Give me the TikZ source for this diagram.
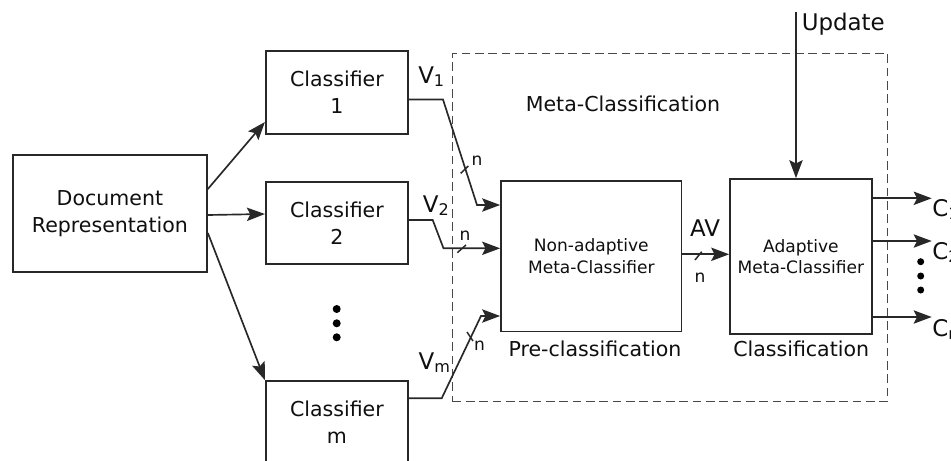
\documentclass[tikz,border=0pt]{standalone}
\usepackage{fontspec}
\setmainfont{DejaVu Sans}
\usetikzlibrary{arrows.meta,calc}
\definecolor{ln}{RGB}{40,40,40}
\definecolor{tx}{RGB}{15,15,15}
\begin{document}
\begin{tikzpicture}[x=0.75pt,y=-0.75pt,
  box/.style={draw=ln,line width=1.25pt,inner sep=0pt,align=center,text=tx,font=\fontsize{15.4pt}{20.25pt}\selectfont},
  ibox/.style={box,font=\fontsize{12.8pt}{16.2pt}\selectfont},
  arr/.style={draw=ln,line width=1.25pt,-{Stealth[length=13.5pt,width=10pt,inset=2.5pt]}},
  tick/.style={draw=ln,line width=1.1pt},
  lblmain/.style={text=tx,inner sep=0pt,font=\fontsize{15.4pt}{18pt}\selectfont},
  lblbig/.style={text=tx,inner sep=0pt,font=\fontsize{17.2pt}{20pt}\selectfont},
  lblsmall/.style={text=tx,inner sep=0pt,font=\fontsize{12.8pt}{14pt}\selectfont},
  bigdot/.style={circle,fill=black,inner sep=0pt,minimum size=#1},
  dashbox/.style={draw=ln!85,line width=0.95pt,dash pattern=on 6.5pt off 3.5pt,inner sep=0pt}
]
\clip (0,0) rectangle (951,461);
\useasboundingbox (0,0) rectangle (951,461);

% dashed meta region
\node[dashbox,minimum width=326pt,minimum height=261.3pt] (meta) at (670,227.5) {};
\node[lblmain,anchor=base] (metalbl) at (623,111) {Meta-Classification};

% boxes
\node[box,minimum width=145.7pt,minimum height=87.75pt] (doc) at (109.9,213.5) {Document\\Representation};
\node[box,minimum width=106.7pt,minimum height=62.25pt] (c1) at (336.9,92.5) {Classifier\\1};
\node[box,minimum width=106.7pt,minimum height=61.5pt] (c2) at (336.9,223) {Classifier\\2};
\node[box,minimum width=106.7pt,minimum height=62.25pt] (c3) at (336.9,422.5) {Classifier\\m};
\node[ibox,minimum width=135.5pt,minimum height=113pt] (nad) at (591.3,256.3) {Non-adaptive\\Meta-Classifier};
\node[ibox,minimum width=106.3pt,minimum height=116.25pt] (ada) at (800.9,256.5) {Adaptive\\Meta-Classifier};
\node[lblmain,anchor=base] (prelbl) at (595,356.7) {Pre-classification};
\node[lblmain,anchor=base] (clslbl) at (801.2,356.7) {Classification};

% vertical dots
\node[bigdot=6pt] (md1) at (336.7,309) {};
\node[bigdot=6pt] (md2) at (336.7,323.3) {};
\node[bigdot=6pt] (md3) at (336.7,337.3) {};

% doc -> classifiers
\coordinate (d1s) at (207,189);
\coordinate (d1e) at (265.7,122);
\coordinate (d2s) at (207,215);
\coordinate (d2e) at (265.7,214);
\coordinate (d3s) at (207,233);
\draw[arr] (doc.east |- d1s) -- (c1.west |- d1e);
\draw[arr] (doc.east |- d2s) -- (c2.west |- d2e);
\draw[arr] (doc.east |- d3s) -- (c3.north west);

% V connectors
\coordinate (v1a) at (443,99.5);
\coordinate (v1b) at (477,205);
\coordinate (v2a) at (432.7,220);
\coordinate (v2b) at (443.5,248.3);
\coordinate (vma) at (441.7,398.3);
\coordinate (vmb) at (481,316);
\draw[arr] (c1.east |- v1a) -- (v1a) -- (v1b) -- (nad.west |- v1b);
\draw[arr] (c2.east |- v2a) -- (v2a) -- (v2b) -- (nad.west |- v2b);
\draw[arr] (c3.east |- vma) -- (vma) -- (vmb) -- (nad.west |- vmb);
\node[lblbig,anchor=base west] (v1lbl) at (418,83) {V\textsubscript{1}};
\node[lblbig,anchor=base west] (v2lbl) at (422.7,212) {V\textsubscript{2}};
\node[lblbig,anchor=base west] (vmlbl) at (418.3,369) {V\textsubscript{m}};

% bus ticks and widths
\draw[tick] (460.7,173.3) -- (468.3,166);
\draw[tick] (457.3,252.7) -- (466,245);
\draw[tick] (467,332) -- (473,341);
\node[lblsmall] (n1) at (477,161) {n};
\node[lblsmall] (n2) at (465,236) {n};
\node[lblsmall] (nm) at (479.5,346) {n};

% AV
\coordinate (av) at (700,254.3);
\draw[arr] (nad.east |- av) -- (ada.west |- av);
\draw[tick] (695,260) -- (701.7,251.7);
\node[lblbig,anchor=base] (avlbl) at (705,236.7) {AV};
\node[lblsmall] (nav) at (700,278) {n};

% Update
\coordinate (upd) at (796,11.7);
\draw[arr] (upd) -- (ada.north -| upd);
\node[lblbig,anchor=base west] (updlbl) at (801.5,30.7) {Update};

% outputs
\coordinate (o1) at (931.7,198.3);
\coordinate (o2) at (931.7,241);
\coordinate (o3) at (931.7,317);
\draw[arr] (ada.east |- o1) -- (o1);
\draw[arr] (ada.east |- o2) -- (o2);
\draw[arr] (ada.east |- o3) -- (o3);
\node[lblbig,anchor=base west] (c1lbl) at (932,216) {C\textsubscript{1}};
\node[lblbig,anchor=base west] (c2lbl) at (932,259) {C\textsubscript{2}};
\node[lblbig,anchor=base west] (cmlbl) at (932,336) {C\textsubscript{m}};
\node[bigdot=5.25pt] (rd1) at (920.7,261.7) {};
\node[bigdot=5.25pt] (rd2) at (920.7,276) {};
\node[bigdot=5.25pt] (rd3) at (920.7,290) {};
\end{tikzpicture}
\end{document}
